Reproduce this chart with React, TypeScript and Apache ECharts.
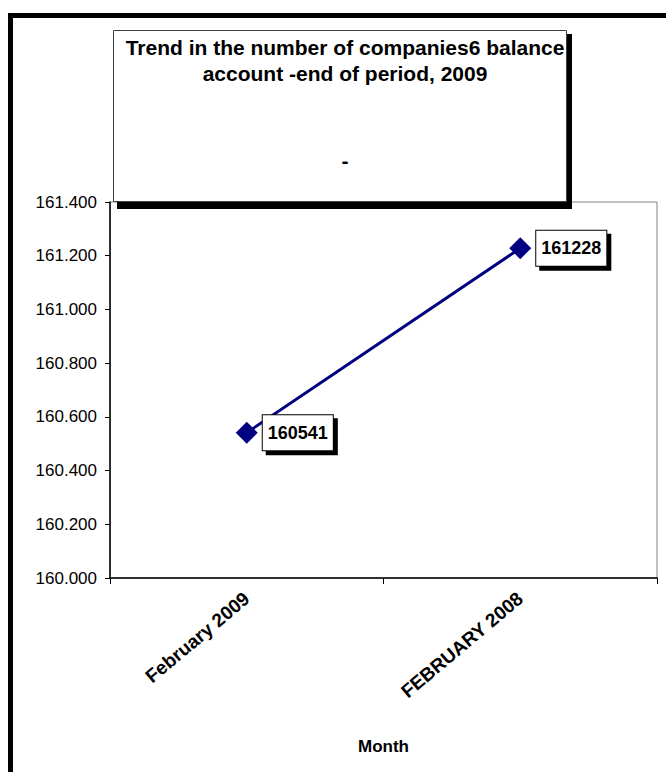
import React, { useEffect, useRef } from "react";
import * as echarts from "echarts";

const categories = ["February 2009", "FEBRUARY 2008"];
const values = [160541, 161228];
const yMin = 160000;
const yMax = 161400;
const yInterval = 200;
const titleLines = ["Trend in the number of companies6 balance", "account -end of period, 2009"];
const subtitleText = "-";
const xAxisName = "Month";

const FONT = "'Liberation Sans', Arial, sans-serif";

export default function App() {
  const ref = useRef<HTMLDivElement>(null);
  useEffect(() => {
    document.body.style.margin = "0";
    if (!ref.current) return;
    const chart = echarts.init(ref.current, null, { renderer: "svg" });
    chart.setOption({
      animation: false,
      backgroundColor: "#ffffff",
      textStyle: { fontFamily: FONT },
      title: [
        {
          text: titleLines.join("\n"),
          left: 340,
          top: 29,
          textAlign: "center",
          z: 12,
          textStyle: { fontFamily: FONT, fontSize: 21, fontWeight: "bold", color: "#000", lineHeight: 26 },
        },
        {
          text: subtitleText,
          left: 340,
          top: 145,
          textAlign: "center",
          z: 12,
          textStyle: { fontFamily: FONT, fontSize: 21, fontWeight: "bold", color: "#000" },
        },
      ],
      grid: {
        left: 110,
        top: 202,
        right: 9,
        bottom: 194,
        show: true,
        borderColor: "#808080",
        borderWidth: 1,
      },
      xAxis: {
        type: "category",
        data: categories,
        boundaryGap: true,
        name: xAxisName,
        nameLocation: "middle",
        nameGap: 160,
        nameTextStyle: { fontFamily: FONT, fontSize: 17, fontWeight: "bold", color: "#000" },
        axisLine: { lineStyle: { color: "#000", width: 1.5 } },
        axisTick: { show: true, length: 6, inside: false, lineStyle: { color: "#000" } },
        axisLabel: {
          rotate: 40,
          margin: 18,
          fontFamily: FONT,
          fontSize: 19,
          fontWeight: "bold",
          color: "#000",
        },
        splitLine: { show: false },
      },
      yAxis: {
        type: "value",
        min: yMin,
        max: yMax,
        interval: yInterval,
        axisLine: { show: true, lineStyle: { color: "#000", width: 1.5 } },
        axisTick: { show: true, length: 5, lineStyle: { color: "#000" } },
        axisLabel: {
          margin: 13,
          fontFamily: FONT,
          fontSize: 17,
          color: "#000",
          formatter: (v: number) => (v / 1000).toFixed(3),
        },
        splitLine: { show: false },
      },
      graphic: [
        {
          type: "rect",
          z: 100,
          shape: { x: 10.5, y: 15.5, width: 900, height: 900 },
          style: { fill: "none", stroke: "#000", lineWidth: 5 },
          silent: true,
        },
        {
          type: "rect",
          z: 9,
          shape: { x: 117, y: 34, width: 455, height: 175 },
          style: { fill: "#000" },
          silent: true,
        },
        {
          type: "rect",
          z: 10,
          shape: { x: 113.5, y: 30.5, width: 453, height: 171 },
          style: { fill: "#fff", stroke: "#404040", lineWidth: 1 },
          silent: true,
        },
      ],
      series: [
        {
          type: "line",
          data: values,
          symbol: "diamond",
          symbolSize: 22,
          showSymbol: true,
          z: 4,
          lineStyle: { color: "#000080", width: 3 },
          itemStyle: { color: "#000080" },
          label: {
            show: true,
            position: "right",
            distance: 5,
            fontFamily: FONT,
            fontSize: 18,
            fontWeight: "bold",
            lineHeight: 20,
            padding: [8, 5, 7, 5],
            formatter: (p: any) => String(p.value),
            color: "#000",
            backgroundColor: "#fff",
            borderColor: "#000",
            borderWidth: 1,
            shadowColor: "#000",
            shadowBlur: 0,
            shadowOffsetX: 4,
            shadowOffsetY: 4,
          },
        },
      ],
    });
    return () => chart.dispose();
  }, []);
  return <div ref={ref} style={{ width: 666, height: 772 }} />;
}
